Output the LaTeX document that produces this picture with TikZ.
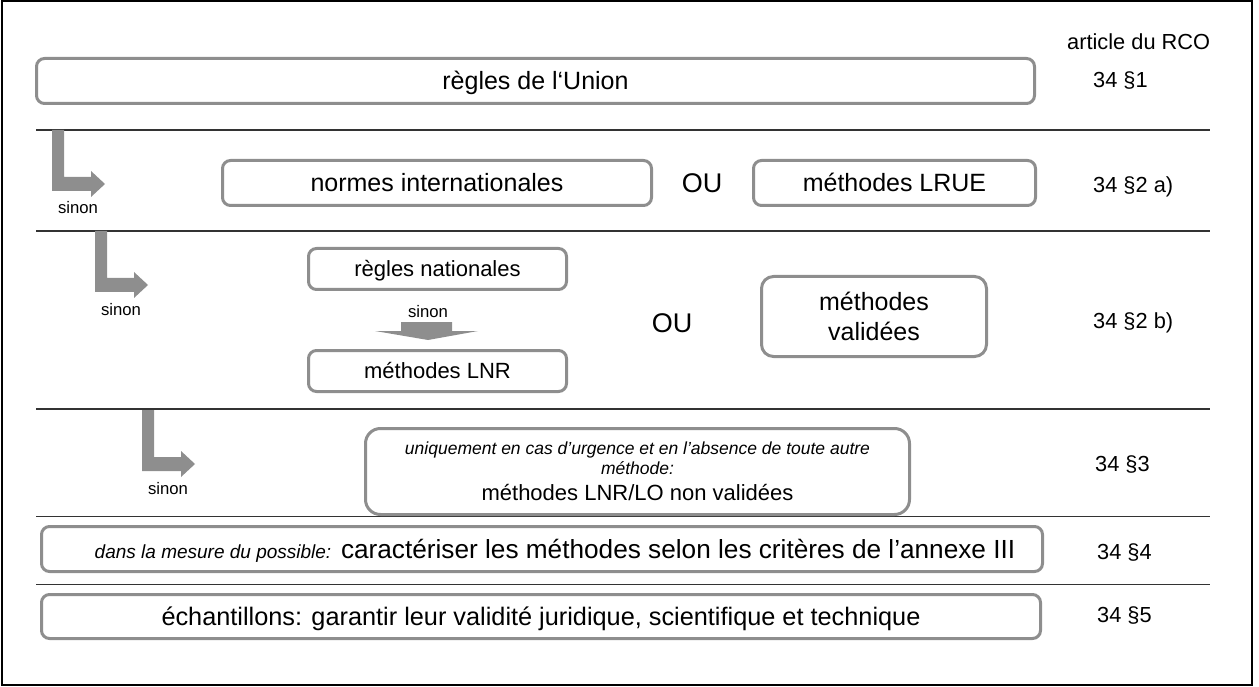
\documentclass[tikz,border=0pt]{standalone}
\usepackage{fontspec}
\setmainfont{Liberation Sans}
\usetikzlibrary{calc}
\definecolor{boxgray}{HTML}{8E8E8E}
\definecolor{arrowgray}{HTML}{8E8E8E}
\definecolor{sepgray}{HTML}{333333}
\tikzset{
  lshape/.pic={\fill[arrowgray] (0,0) -- (12,0) -- (12,47) -- (39,47) -- (39,41) -- (53,54) -- (39,67) -- (39,61) -- (0,61) -- cycle;},
  box/.style={draw=boxgray, line width=3pt, rounded corners=8pt, fill=white, inner sep=0pt, align=center},
  bigtxt/.style={font=\fontsize{25}{30}\selectfont, text height=18pt, text depth=0pt},
  midtxt/.style={font=\fontsize{22}{26}\selectfont, text height=15.8pt, text depth=0pt},
  reftxt/.style={anchor=west, inner sep=0pt, font=\fontsize{21.8}{26}\selectfont, text height=15.6pt, text depth=0pt},
  sinontxt/.style={inner sep=0pt, font=\fontsize{16.7}{20}\selectfont, text height=8.7pt, text depth=0pt},
  outxt/.style={inner sep=0pt, font=\fontsize{27}{32}\selectfont, text height=19.3pt, text depth=0pt},
  sepline/.style={draw=sepgray, line width=1.5pt},
}
\begin{document}
\begin{tikzpicture}[x=1pt,y=-1pt]
\useasboundingbox (0,0) rectangle (1259,687);
\draw[black, line width=2pt] (2,1.5) rectangle (1252,685);

% separators
\draw[sepline] (36,130) -- (1210,130);
\draw[sepline] (36,231) -- (1210,231);
\draw[sepline] (36,409) -- (1210,409);
\draw[sepline] (36,516.5) -- (1210,516.5);
\draw[sepline] (36,584.5) -- (1210,584.5);

% right column
\node[reftxt] (art) at (1067,42) {article du RCO};
\node[reftxt] (r1) at (1093,80) {34 §1};
\node[reftxt] (r2a) at (1093,185) {34 §2 a)};
\node[reftxt] (r2b) at (1093,321) {34 §2 b)};
\node[reftxt] (r3) at (1095,464) {34 §3};
\node[reftxt] (r4) at (1097,552) {34 §4};
\node[reftxt] (r5) at (1097,615) {34 §5};

% row 1
\node[box, bigtxt, minimum width=998, minimum height=45] (union) at (535.5,81) {règles de l‘Union};

% row 2
\pic at (52,130) {lshape};
\node[sinontxt] (s1) at (78,209) {sinon};
\node[box, bigtxt, minimum width=429, minimum height=45] (ni) at (437,183) {normes internationales};
\node[outxt] (ou1) at (702,183) {OU};
\node[box, bigtxt, minimum width=282, minimum height=45] (lrue) at (894.5,183) {méthodes LRUE};

% row 3
\pic at (95,231) {lshape};
\node[sinontxt] (s2) at (121,311) {sinon};
\node[box, midtxt, minimum width=258, minimum height=41] (rn) at (437.5,269) {règles nationales};
\node[box, midtxt, minimum width=258, minimum height=41] (lnr) at (437.5,371) {méthodes LNR};
\coordinate (dn) at (428,331);
\fill[arrowgray] ($(dn)+(-27,-9)$) -- ($(dn)+(24,-9)$) -- ($(dn)+(24,0)$) -- ($(dn)+(50,0)$) -- ($(dn)+(0,9)$) -- ($(dn)+(-53,0)$) -- ($(dn)+(-27,0)$) -- cycle;
\node[sinontxt] (s3) at (428,313) {sinon};
\node[outxt] (ou2) at (672,323) {OU};
\node[box, rounded corners=12pt, minimum width=225, minimum height=80, font=\fontsize{25}{30}\selectfont] (mv) at (874,316.5) {méthodes\\validées};

% row 4
\pic at (142,410) {lshape};
\node[sinontxt] (s4) at (168,490) {sinon};
\node[box, rounded corners=15pt, minimum width=544, minimum height=86, font=\fontsize{17.5}{20}\selectfont] (lo) at (637.5,471.5)
  {\itshape uniquement en cas d’urgence et en l’absence de toute autre\\\itshape méthode:\\[6.5pt]\fontsize{22}{26}\selectfont méthodes LNR/LO non validées};

% row 5
\node[box, minimum width=1001, minimum height=45, font=\fontsize{26.2}{30}\selectfont, text height=18.8pt, text depth=0pt] (carac) at (542,549)
  {\hspace*{26pt}{\itshape\fontsize{19}{22}\selectfont dans la mesure du possible:} caractériser les méthodes selon les critères de l’annexe III};

% row 6
\node[box, minimum width=999, minimum height=44, font=\fontsize{25.3}{30}\selectfont, text height=18.2pt, text depth=0pt] (ech) at (541,616.5) {échantillons: garantir leur validité juridique, scientifique et technique};
\end{tikzpicture}
\end{document}
